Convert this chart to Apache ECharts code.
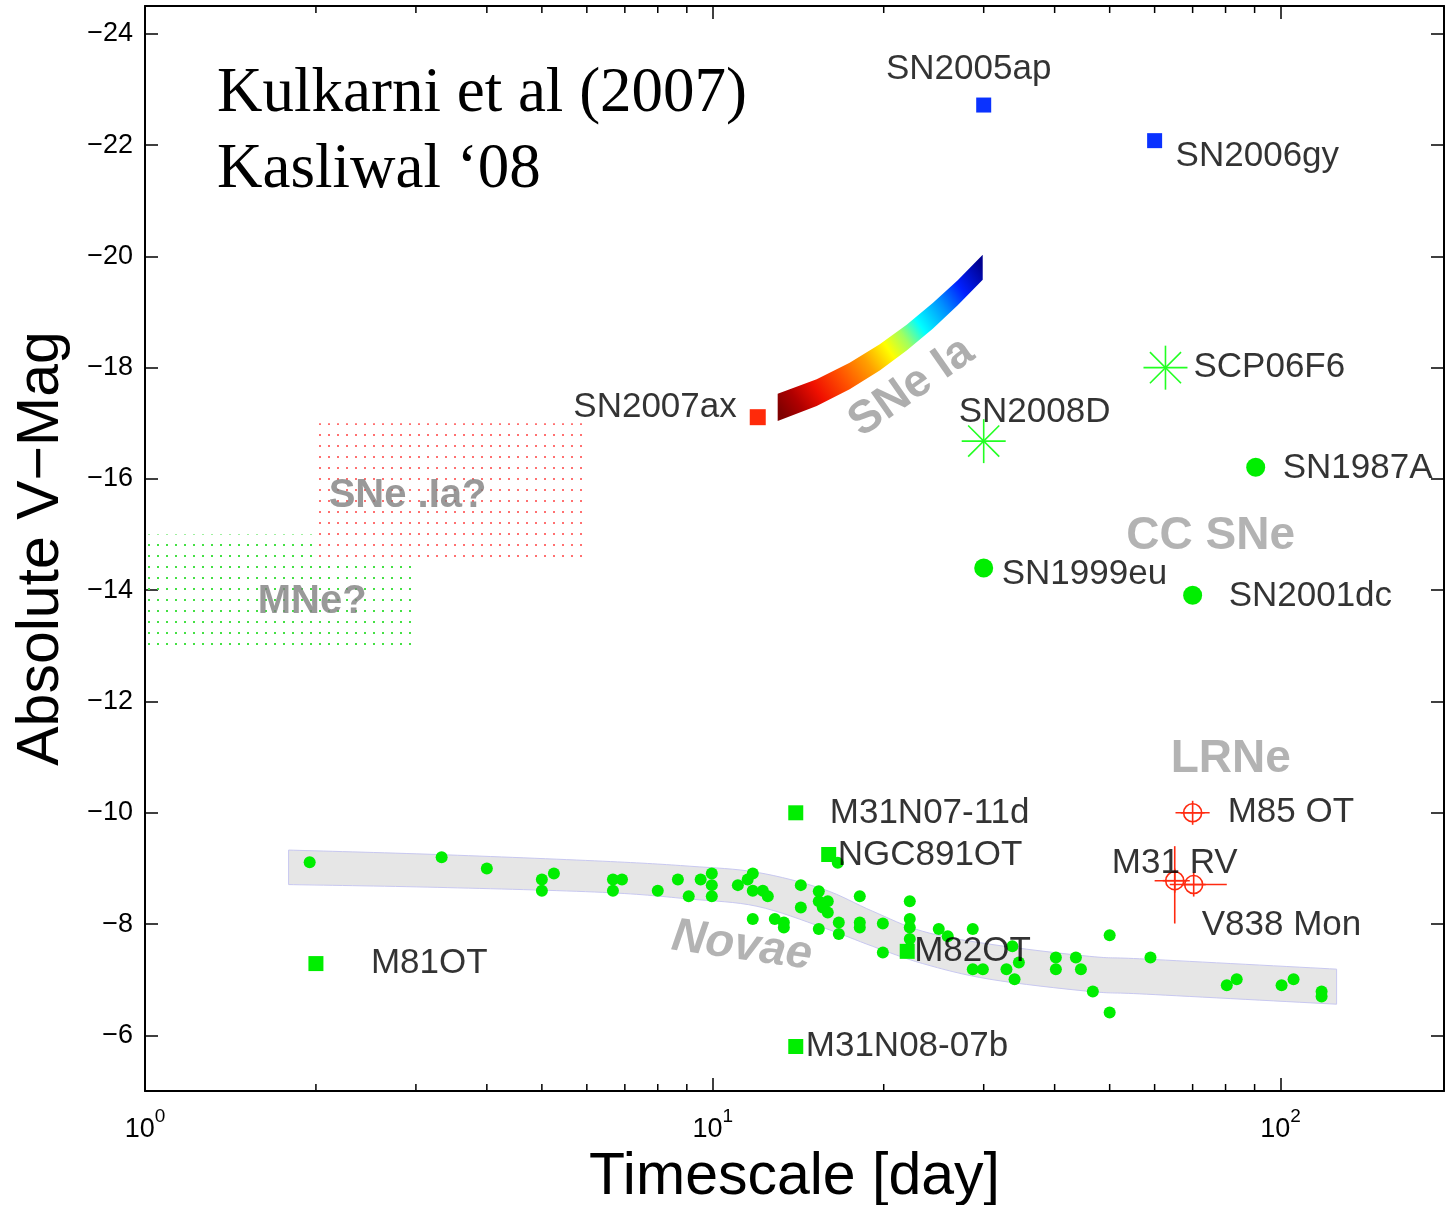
<!DOCTYPE html>
<html>
<head>
<meta charset="utf-8">
<script src="https://cdn.jsdelivr.net/npm/echarts@6/dist/echarts.min.js"></script>
<style>
html, body { margin: 0; padding: 0; background: #fff; }
#chart { width: 1445px; height: 1205px; }
</style>
</head>
<body>
<div id="chart"></div>
<script>
// ---- axis ticks ----
const xTickValues = [1, 10, 100];
const xMinorTicks = [2, 3, 4, 5, 6, 7, 8, 9, 20, 30, 40, 50, 60, 70, 80, 90];
const yTickValues = [-24, -22, -20, -18, -16, -14, -12, -10, -8, -6];

// ---- blue squares ----
const blueNames = ['SN2005ap', 'SN2006gy'];
const blueX = [30, 60];
const blueMag = [-22.72, -22.08];

// ---- red square ----
const redNames = ['SN2007ax'];
const redX = [12];
const redMag = [-17.11];

// ---- green squares ----
const sqNames = ['M31N07-11d', 'NGC891OT', 'M82OT', 'M31N08-07b', 'M81OT'];
const sqX = [14, 16, 22, 14, 2];
const sqMag = [-10, -9.25, -7.51, -5.8, -7.29];

// ---- core collapse (green circles) ----
const ccNames = ['SN1987A', 'SN1999eu', 'SN2001dc'];
const ccX = [90.4, 30, 70];
const ccMag = [-16.21, -14.4, -13.91];

// ---- asterisks ----
const starNames = ['SN2008D', 'SCP06F6'];
const starX = [30, 62.7];
const starMag = [-16.68, -18.0];

// ---- luminous red novae, with error bars ----
const lrnNames = ['M85 OT', 'M31 RV', 'V838 Mon'];
const lrnX = [70, 65.1, 70.3];
const lrnMag = [-10, -8.78, -8.71];
const lrnXLo = [65.3, 60.0, 63.8];
const lrnXHi = [75.0, 69.2, 80.4];
const lrnMagLo = [-10, -9.4, -8.71];
const lrnMagHi = [-10, -8.01, -8.71];

// ---- novae ----
const novaX = [1.95, 3.33, 4.0, 5.0, 5.0, 5.25, 6.67, 6.92, 6.67, 8.0, 8.68, 9.07, 9.52,
  9.96, 9.96, 9.96, 11.07, 11.52, 11.76, 11.76, 12.25, 12.5, 11.76, 12.86, 13.34, 13.34,
  14.29, 14.29, 15.37, 15.37, 15.94, 15.94, 15.62, 15.37, 16.67, 16.67, 16.6, 18.15, 18.15,
  18.15, 19.93, 19.93, 22.23, 22.23, 22.23, 22.23, 25.0, 25.93, 28.7, 28.7, 29.9, 32.9,
  33.7, 34.6, 34.0, 40.2, 40.2, 43.6, 44.5, 46.7, 50.0, 50.0, 59.0, 80.4, 83.7, 100.4,
  105.4, 118.1, 118.1];
const novaMag = [-9.11, -9.2, -9.0, -8.8, -8.6, -8.91, -8.8, -8.8, -8.6, -8.6, -8.8, -8.5, -8.8,
  -8.91, -8.7, -8.5, -8.7, -8.8, -8.91, -8.6, -8.6, -8.5, -8.09, -8.09, -8.03, -7.94,
  -8.7, -8.3, -8.59, -8.41, -8.41, -8.21, -8.3, -7.91, -8.03, -7.82, -9.1, -8.5, -8.03,
  -7.94, -8.01, -7.49, -8.41, -8.09, -7.94, -7.73, -7.91, -7.78, -7.91, -7.19, -7.19, -7.19,
  -7.6, -7.31, -7.01, -7.4, -7.19, -7.4, -7.19, -6.79, -7.8, -6.41, -7.4, -6.9, -7.01, -6.9,
  -7.01, -6.79, -6.7];

// ---- novae band ----
const novaBandX = [1.79, 3.27, 6.4, 9.11, 11.96, 15.62, 19.13, 23.43, 30.7, 46.1, 58.1, 125.5];
const novaBandTop = [-9.33, -9.25, -9.13, -9.04, -8.93, -8.63, -8.23, -7.87, -7.64, -7.42, -7.37, -7.19];
const novaBandBottom = [-8.71, -8.66, -8.57, -8.45, -8.32, -7.94, -7.6, -7.29, -7.01, -6.79, -6.74, -6.56];

// ---- SNe Ia band ----
const iaX = [13.01, 15.24, 17.42, 19.68, 21.95, 24.4, 27.0, 29.88];
const iaTop = [-17.53, -17.79, -18.09, -18.42, -18.77, -19.16, -19.57, -20.03];
const iaBottom = [-17.04, -17.31, -17.61, -17.95, -18.31, -18.7, -19.12, -19.58];

// ---- dotted regions [x0, mag0, x1, mag1] ----
const sneDotIaRegion = [2, -17, 6, -14.5];
const mneRegion = [1, -15, 3, -13];

// ---- layout only ----
const SANS = 'Liberation Sans, Arial, Helvetica, sans-serif';
const SERIF = 'Liberation Serif, Times New Roman, serif';

const labelPlacement = {
  'SN2005ap': ['center', -15, -36],
  'SN2006gy': ['left', 21, 16],
  'SN2007ax': ['right', -21, -10],
  'SN2008D': ['left', -25, -29],
  'SCP06F6': ['left', 28, 0],
  'SN1987A': ['left', 27, 1],
  'SN1999eu': ['left', 18, 6],
  'SN2001dc': ['left', 36, 1],
  'M85 OT': ['left', 35, 0],
  'M31 RV': ['center', 0, -17],
  'V838 Mon': ['left', 8, 41],
  'M31N07-11d': ['left', 34, 1],
  'NGC891OT': ['left', 9, 1],
  'M82OT': ['left', 7, 0],
  'M31N08-07b': ['left', 10, 0],
  'M81OT': ['left', 55, 0]
};

const annotations = [
  { text: 'SNe Ia', at: [22.4, -17.65], size: 46, color: '#9a9a9a', rotate: 35 },
  { text: 'SNe .Ia?', at: [2.9, -15.69], size: 40, color: '#808080', rotate: 0 },
  { text: 'MNe?', at: [1.97, -13.79], size: 40, color: '#808080', rotate: 0 },
  { text: 'CC SNe', at: [75.3, -14.97], size: 46, color: '#a0a0a0', rotate: 0 },
  { text: 'LRNe', at: [81.7, -10.96], size: 46, color: '#a0a0a0', rotate: 0 },
  { text: 'Novae', at: [11.25, -7.6], size: 47, color: '#a0a0a0', rotate: -8, italic: true }
];

function dotPattern(color, w, h) {
  const c = document.createElement('canvas');
  c.width = w; c.height = h;
  const ctx = c.getContext('2d');
  ctx.fillStyle = color;
  ctx.fillRect(Math.floor(w / 2), Math.floor(h / 2), 2, 2);
  return { image: c, repeat: 'repeat' };
}

// smooth curve through pixel points (Catmull-Rom as cubic bezier), for drawing only
function curveTo(pts) {
  let d = '';
  for (let i = 0; i < pts.length - 1; i++) {
    const p0 = pts[Math.max(i - 1, 0)], p1 = pts[i], p2 = pts[i + 1], p3 = pts[Math.min(i + 2, pts.length - 1)];
    const c1 = [p1[0] + (p2[0] - p0[0]) / 6, p1[1] + (p2[1] - p0[1]) / 6];
    const c2 = [p2[0] - (p3[0] - p1[0]) / 6, p2[1] - (p3[1] - p1[1]) / 6];
    d += ' C' + c1[0] + ',' + c1[1] + ' ' + c2[0] + ',' + c2[1] + ' ' + p2[0] + ',' + p2[1];
  }
  return d;
}

const labelNames = [].concat(blueNames, redNames, sqNames, ccNames, starNames, lrnNames);
const labelX = [].concat(blueX, redX, sqX, ccX, starX, lrnX);
const labelMag = [].concat(blueMag, redMag, sqMag, ccMag, starMag, lrnMag);

const pairs = (xs, ys) => xs.map((x, i) => [x, ys[i]]);

const chart = echarts.init(document.getElementById('chart'));

const xAxisBase = {
  type: 'log', logBase: 10, min: 1, max: 194,
  axisLine: { onZero: false, lineStyle: { color: '#000', width: 2 } },
  axisTick: { inside: true, length: 13, lineStyle: { color: '#000', width: 1.5 } },
  splitLine: { show: false }
};
const yAxisBase = {
  type: 'value', inverse: true, min: -24.5, max: -5,
  axisLine: { onZero: false, lineStyle: { color: '#000', width: 2 } },
  axisTick: { inside: true, length: 13, customValues: yTickValues, lineStyle: { color: '#000', width: 1.5 } },
  splitLine: { show: false }
};

const option = {
  animation: false,
  backgroundColor: '#fff',
  grid: { left: 145, right: 1, top: 6, bottom: 114, outerBoundsMode: 'none', containLabel: false },
  xAxis: [
    Object.assign({}, xAxisBase, {
      position: 'bottom',
      axisLabel: {
        margin: 16,
        formatter: function (v) {
          const e = Math.log10(v);
          if (Math.abs(e - Math.round(e)) > 1e-6) return '';
          return '{b|10}{e|' + Math.round(e) + '}';
        },
        rich: {
          b: { fontSize: 27, fontFamily: SANS, color: '#000', lineHeight: 36, verticalAlign: 'bottom' },
          e: { fontSize: 19, fontFamily: SANS, color: '#000', lineHeight: 36, verticalAlign: 'top' }
        }
      },
      name: 'Timescale [day]', nameLocation: 'middle', nameGap: 56,
      nameTextStyle: { fontSize: 59, fontFamily: SANS, color: '#000' }
    }),
    Object.assign({}, xAxisBase, { position: 'top', axisLabel: { show: false } })
  ],
  yAxis: [
    Object.assign({}, yAxisBase, {
      position: 'left',
      axisLabel: {
        customValues: yTickValues, margin: 12, fontSize: 27, fontFamily: SANS, color: '#000',
        formatter: v => '\u2212' + Math.abs(v)
      },
      name: 'Absolute V\u2212Mag', nameLocation: 'middle', nameGap: 74, nameRotate: 90,
      nameTextStyle: { fontSize: 59, fontFamily: SANS, color: '#000' }
    }),
    Object.assign({}, yAxisBase, { position: 'right', axisLabel: { show: false } })
  ],
  graphic: [
    { type: 'text', left: 217, top: 63, silent: true,
      style: { text: 'Kulkarni et al (2007)', font: '63px ' + SERIF, fill: '#000' } },
    { type: 'text', left: 217, top: 139, silent: true,
      style: { text: 'Kasliwal \u201808', font: '63px ' + SERIF, fill: '#000' } }
  ],
  series: [
    {
      // minor log ticks on bottom and top
      type: 'custom', name: 'minorTicks', silent: true, z: 1,
      data: xMinorTicks.map(v => [v, -10]),
      renderItem: function (params, api) {
        const cs = params.coordSys;
        const p = api.coord([api.value(0), api.value(1)]);
        const st = { stroke: '#000', lineWidth: 1.5 };
        return { type: 'group', children: [
          { type: 'line', shape: { x1: p[0], y1: cs.y + cs.height, x2: p[0], y2: cs.y + cs.height - 7 }, style: st },
          { type: 'line', shape: { x1: p[0], y1: cs.y, x2: p[0], y2: cs.y + 7 }, style: st }
        ] };
      }
    },
    {
      // novae band
      type: 'custom', name: 'novaBand', silent: true, z: 1,
      data: [[novaBandX[0], novaBandTop[0]]],
      renderItem: function (params, api) {
        const top = novaBandX.map((x, i) => api.coord([x, novaBandTop[i]]));
        const bot = novaBandX.map((x, i) => api.coord([x, novaBandBottom[i]])).reverse();
        const d = 'M' + top[0][0] + ',' + top[0][1] + curveTo(top) +
          ' L' + bot[0][0] + ',' + bot[0][1] + curveTo(bot) + ' Z';
        return { type: 'path', shape: { pathData: d },
          style: { fill: '#e6e6e6', stroke: '#c8c8f0', lineWidth: 1 } };
      }
    },
    {
      // SNe Ia band
      type: 'custom', name: 'iaBand', silent: true, z: 2,
      data: [[iaX[0], iaTop[0]]],
      renderItem: function (params, api) {
        const pts = [];
        iaX.forEach((x, i) => pts.push(api.coord([x, iaTop[i]])));
        for (let i = iaX.length - 1; i >= 0; i--) pts.push(api.coord([iaX[i], iaBottom[i]]));
        const n = iaX.length - 1;
        const a = api.coord([iaX[0], (iaTop[0] + iaBottom[0]) / 2]);
        const b = api.coord([iaX[n], (iaTop[n] + iaBottom[n]) / 2]);
        const grad = new echarts.graphic.LinearGradient(a[0], a[1], b[0], b[1], [
          { offset: 0, color: '#800000' },
          { offset: 0.08, color: '#b00000' },
          { offset: 0.17, color: '#f01000' },
          { offset: 0.28, color: '#ff5000' },
          { offset: 0.4, color: '#ffa000' },
          { offset: 0.5, color: '#ffff00' },
          { offset: 0.58, color: '#a0ff60' },
          { offset: 0.66, color: '#00ffff' },
          { offset: 0.78, color: '#0090ff' },
          { offset: 0.88, color: '#0020ff' },
          { offset: 1, color: '#000090' }
        ], true);
        return { type: 'polygon', shape: { points: pts }, style: { fill: grad } };
      }
    },
    {
      type: 'scatter', name: 'novae', z: 3, symbol: 'circle', symbolSize: 12,
      itemStyle: { color: '#00ee00', opacity: 1 },
      data: pairs(novaX, novaMag),
      markArea: {
        silent: true,
        data: [
          [{ coord: [mneRegion[0], mneRegion[1]], itemStyle: { color: dotPattern('#44e044', 9, 11), opacity: 1 } },
           { coord: [mneRegion[2], mneRegion[3]] }],
          [{ coord: [sneDotIaRegion[0], sneDotIaRegion[1]], itemStyle: { color: dotPattern('#ff7070', 9, 11), opacity: 1 } },
           { coord: [sneDotIaRegion[2], sneDotIaRegion[3]] }]
        ]
      }
    },
    {
      type: 'scatter', name: 'blue', z: 4, symbol: 'rect', symbolSize: 15,
      itemStyle: { color: '#0a32ff', opacity: 1 }, data: pairs(blueX, blueMag)
    },
    {
      type: 'scatter', name: 'red', z: 4, symbol: 'rect', symbolSize: 16,
      itemStyle: { color: '#ff2a0a', opacity: 1 }, data: pairs(redX, redMag)
    },
    {
      type: 'scatter', name: 'greenSquares', z: 4, symbol: 'rect', symbolSize: 15,
      itemStyle: { color: '#00ee00', opacity: 1 }, data: pairs(sqX, sqMag)
    },
    {
      type: 'scatter', name: 'ccSNe', z: 4, symbol: 'circle', symbolSize: 19,
      itemStyle: { color: '#00ee00', opacity: 1 }, data: pairs(ccX, ccMag)
    },
    {
      type: 'custom', name: 'asterisks', silent: true, z: 4,
      data: pairs(starX, starMag),
      renderItem: function (params, api) {
        const c = api.coord([api.value(0), api.value(1)]);
        const r = 22;
        const children = [0, 45, 90, 135].map(deg => {
          const t = deg * Math.PI / 180;
          return { type: 'line', shape: { x1: c[0] - r * Math.cos(t), y1: c[1] - r * Math.sin(t),
            x2: c[0] + r * Math.cos(t), y2: c[1] + r * Math.sin(t) },
            style: { stroke: '#22ff22', lineWidth: 1.6 } };
        });
        return { type: 'group', children: children };
      }
    },
    {
      type: 'custom', name: 'lrn', silent: true, z: 5,
      data: lrnX.map((x, i) => [x, lrnMag[i], lrnXLo[i], lrnXHi[i], lrnMagLo[i], lrnMagHi[i]]),
      renderItem: function (params, api) {
        const c = api.coord([api.value(0), api.value(1)]);
        const xl = api.coord([api.value(2), api.value(1)]);
        const xh = api.coord([api.value(3), api.value(1)]);
        const yl = api.coord([api.value(0), api.value(4)]);
        const yh = api.coord([api.value(0), api.value(5)]);
        const st = { stroke: '#ff2a10', lineWidth: 1.6, fill: null };
        const arm = 12;
        return { type: 'group', children: [
          { type: 'circle', shape: { cx: c[0], cy: c[1], r: 9 }, style: st },
          { type: 'line', shape: { x1: c[0] - arm, y1: c[1], x2: c[0] + arm, y2: c[1] }, style: st },
          { type: 'line', shape: { x1: c[0], y1: c[1] - arm, x2: c[0], y2: c[1] + arm }, style: st },
          { type: 'line', shape: { x1: xl[0], y1: c[1], x2: xh[0], y2: c[1] }, style: st },
          { type: 'line', shape: { x1: c[0], y1: yl[1], x2: c[0], y2: yh[1] }, style: st }
        ] };
      }
    },
    {
      type: 'scatter', name: 'annotations', z: 6, silent: true, symbolSize: 1,
      itemStyle: { color: 'transparent' },
      data: annotations.map(a => ({
        name: a.text, value: a.at,
        label: { fontSize: a.size, color: a.color, rotate: a.rotate, fontStyle: a.italic ? 'italic' : 'normal' }
      })),
      label: { show: true, position: 'inside', formatter: '{b}', fontWeight: 'bold', fontFamily: SANS,
        align: 'center', verticalAlign: 'middle' }
    },
    {
      type: 'scatter', name: 'labels', z: 7, silent: true, symbolSize: 1,
      itemStyle: { color: 'transparent' },
      data: labelNames.map((n, i) => {
        const p = labelPlacement[n];
        return { name: n, value: [labelX[i], labelMag[i]], label: { align: p[0], offset: [p[1], p[2]] } };
      }),
      label: { show: true, position: 'inside', formatter: '{b}', color: '#000', fontSize: 35,
        fontFamily: SANS, verticalAlign: 'middle' }
    }
  ]
};

chart.setOption(option);
</script>
</body>
</html>
